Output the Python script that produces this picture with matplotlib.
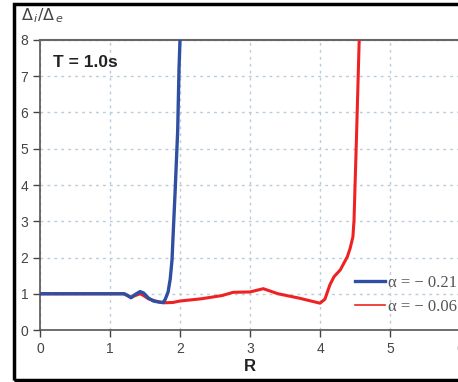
import matplotlib.pyplot as plt
from matplotlib.lines import Line2D
from matplotlib.patches import Rectangle

plt.rcParams["font.family"] = ["Liberation Sans", "DejaVu Sans"]
plt.rcParams["mathtext.fontset"] = "dejavusans"

# curve for alpha = -0.21
r_blue = [0, 1.2, 1.25, 1.3, 1.36, 1.43, 1.48, 1.55, 1.62, 1.7, 1.76, 1.79, 1.83, 1.86,
          1.886, 1.905, 1.93, 1.943, 1.967, 1.986, 2.0]
d_blue = [1.0, 1.0, 0.95, 0.89, 0.98, 1.06, 1.02, 0.88, 0.8, 0.77, 0.76, 0.85, 1.05, 1.4,
          1.93, 2.76, 3.8, 4.4, 5.5, 7.2, 8.0]

# curve for alpha = -0.06
r_red = [0, 1.2, 1.25, 1.3, 1.36, 1.43, 1.48, 1.55, 1.65, 1.76, 1.9, 2.0, 2.3, 2.6, 2.76,
         3.0, 3.19, 3.4, 3.7, 4.0, 4.07, 4.14, 4.2, 4.29, 4.39, 4.43, 4.47, 4.486, 4.5, 4.52, 4.56]
d_red = [1.0, 1.0, 0.96, 0.9, 0.95, 1.0, 0.95, 0.86, 0.8, 0.75, 0.76, 0.8, 0.86, 0.95, 1.04,
         1.05, 1.14, 1.0, 0.88, 0.74, 0.85, 1.24, 1.47, 1.66, 2.02, 2.25, 2.57, 3.03, 3.95, 5.24, 8.0]

labels = ["\u03b1 = \u2212 0.21", "\u03b1 = \u2212 0.06"]
x_ticks = [0, 1, 2, 3, 4, 5, 6]
y_ticks = [0, 1, 2, 3, 4, 5, 6, 7, 8]

BLUE = "#2f4fa2"
RED = "#ee2222"

fig = plt.figure(figsize=(4.58, 3.82), dpi=100)
ax = fig.add_axes([0.0873, 0.1361, 0.9171, 0.7592])

ax.plot(r_red, d_red, color=RED, lw=2.2, zorder=3)
ax.plot(r_blue, d_blue, color=BLUE, lw=2.4, zorder=4)

ax.set_xlim(0, 6)
ax.set_ylim(0, 8)
ax.set_xticks(x_ticks)
ax.set_yticks(y_ticks)
ax.tick_params(labelsize=10, colors="#444444", length=5, width=1)
ax.grid(True, color="#b8ccdc", linestyle=(0, (2, 3)), lw=1)
for s in ["left", "bottom"]:
    ax.spines[s].set_color("#555555")
    ax.spines[s].set_linewidth(1.2)
ax.spines["top"].set_color("#666666")
ax.spines["top"].set_linewidth(1.5)
ax.spines["right"].set_visible(False)

ax.text(0.19, 7.39, "T = 1.0s", fontsize=12.5, fontweight="bold", color="#222222",
        va="center", ha="left")
ax.set_xlabel("R", fontsize=12, fontweight="bold", color="#222222", labelpad=2)

fig.text(0.046, 0.958, r"$\Delta_{\,i}/\Delta_{\,e}$", fontsize=11.5, color="#444444",
         va="center", ha="left")

handles = [Line2D([], [], color=BLUE, lw=2.4), Line2D([], [], color=RED, lw=1.2)]
ax.legend(handles, labels, loc="center left", bbox_to_anchor=(0.75, 0.1207),
          frameon=False, prop={"family": "Liberation Serif", "size": 12},
          borderpad=0, borderaxespad=0,
          handlelength=1.8, handletextpad=0.15, labelspacing=0.45, labelcolor="#555555")

fig.add_artist(Rectangle((0.0306, 0.0065), 1.2, 0.983, transform=fig.transFigure,
                         fill=False, edgecolor="black", lw=2.5, clip_on=False))

fig.savefig("out.png", dpi=100, facecolor="white")
